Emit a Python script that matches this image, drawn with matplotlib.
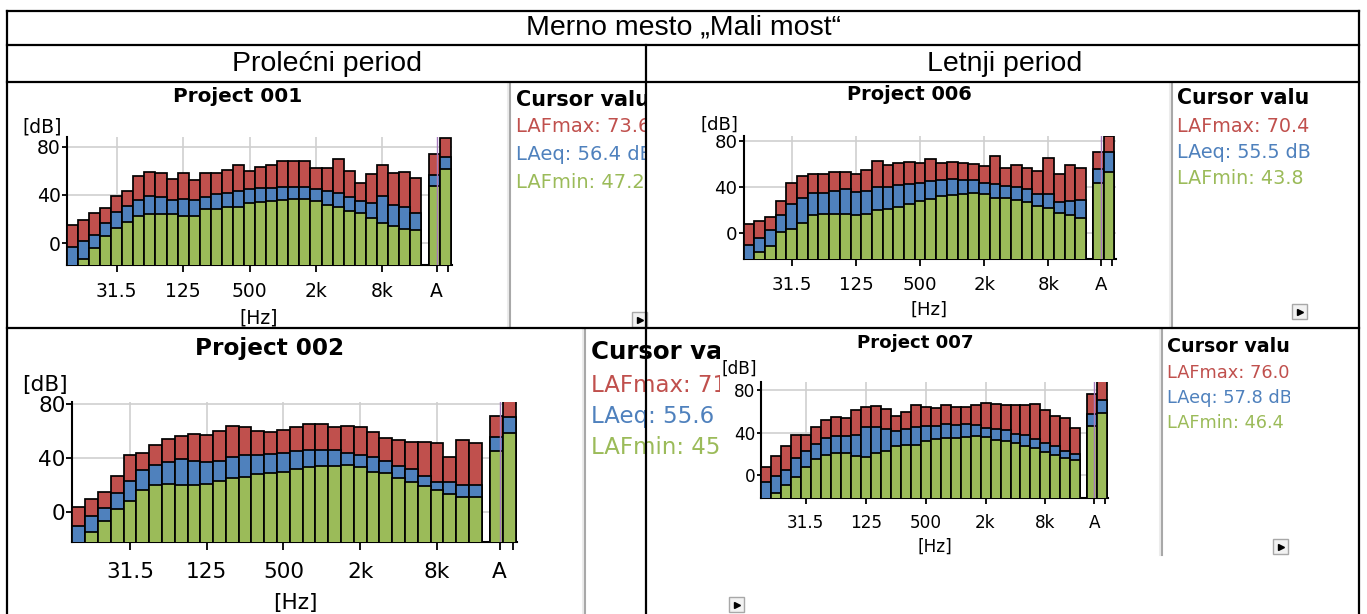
import numpy as np
import matplotlib.pyplot as plt
from matplotlib.patches import Rectangle

W, H = 1367, 614

# third-octave bands 12.5 Hz .. 16 kHz
bands = ['12.5', '16', '20', '25', '31.5', '40', '50', '63', '80', '100',
         '125', '160', '200', '250', '315', '400', '500', '630', '800', '1k',
         '1.25k', '1.6k', '2k', '2.5k', '3.15k', '4k', '5k', '6.3k', '8k',
         '10k', '12.5k', '16k']
tick_bands = ['31.5', '125', '500', '2k', '8k']

# Project 001 (prolecni)
p001_max = [15, 19, 25, 29, 39, 43, 56, 59, 58, 53, 58, 52, 58, 58, 61, 65,
            60, 63, 65, 68, 68, 68, 62, 62, 70, 60, 50, 57, 65, 58, 59, 54]
p001_eq = [-3, 2, 7, 17, 26, 31, 36, 39, 38, 36, 37, 36, 38, 41, 42, 43,
           45, 46, 46, 47, 47, 47, 45, 43, 42, 38, 35, 33, 39, 32, 30, 25]
p001_min = [-25, -13, -4, 6, 13, 18, 23, 24, 24, 24, 23, 23, 28, 28, 30, 30,
            33, 34, 35, 36, 37, 37, 35, 32, 30, 27, 25, 21, 17, 14, 12, 11]
p001_a_max = [73.6, 87.4]
p001_a_eq = [56.4, 71.2]
p001_a_min = [47.2, 61.2]

# Project 006 (letnji)
p006_max = [8, 11, 14, 28, 44, 50, 51, 51, 53, 53, 51, 55, 63, 59, 61, 62,
            61, 64, 61, 62, 61, 60, 58, 67, 57, 59, 57, 54, 65, 51, 59, 57]
p006_eq = [-10, -4, 3, 16, 25, 31, 35, 35, 37, 38, 36, 37, 40, 40, 42, 43,
           44, 45, 46, 47, 46, 46, 44, 43, 41, 40, 38, 34, 34, 27, 28, 29]
p006_min = [-25, -16, -11, 1, 4, 9, 16, 17, 17, 17, 16, 17, 20, 21, 23, 25,
            28, 30, 32, 33, 34, 35, 34, 31, 31, 29, 27, 24, 22, 18, 16, 13]
p006_a_max = [70.4, 84.5]
p006_a_eq = [55.5, 70.2]
p006_a_min = [43.8, 53.2]

# Project 002 (prolecni)
p002_max = [4, 10, 15, 27, 42, 44, 50, 54, 56, 58, 57, 60, 64, 63, 60, 59,
            61, 63, 65, 65, 63, 64, 63, 59, 55, 53, 52, 52, 51, 41, 53, 51]
p002_eq = [-10, -3, 3, 14, 23, 31, 35, 37, 39, 38, 37, 38, 41, 42, 42, 43,
           44, 45, 46, 46, 46, 44, 42, 41, 38, 34, 32, 27, 22, 22, 20, 20]
p002_min = [-25, -15, -7, 2, 8, 16, 20, 21, 20, 20, 21, 23, 25, 26, 28, 29,
            30, 32, 33, 34, 34, 35, 33, 30, 29, 25, 22, 19, 16, 13, 11, 11]
p002_a_max = [71.0, 85.0]
p002_a_eq = [55.6, 70.6]
p002_a_min = [45.0, 58.6]

# Project 007 (letnji)
p007_max = [8, 18, 27, 38, 38, 45, 52, 55, 54, 61, 64, 65, 62, 56, 59, 66,
            64, 63, 66, 64, 64, 66, 68, 67, 66, 66, 66, 67, 61, 56, 54, 44]
p007_eq = [-7, -1, 5, 16, 23, 29, 35, 37, 37, 38, 45, 45, 43, 41, 43, 45,
           46, 46, 48, 47, 48, 47, 44, 43, 42, 39, 38, 34, 30, 27, 23, 20]
p007_min = [-25, -17, -9, -2, 8, 15, 19, 21, 21, 18, 17, 21, 23, 27, 28, 28,
            32, 34, 35, 35, 36, 37, 36, 33, 32, 30, 27, 25, 22, 19, 16, 14]
p007_a_max = [76.0, 88.4]
p007_a_eq = [57.8, 70.5]
p007_a_min = [46.4, 58.0]

RED, BLUE, GREEN = '#c0504d', '#4f81bd', '#9bbb59'
XMIN, XMAX = -0.5, 34.3
XA = [32.67, 33.67]      # the two overall-level bars
XCUR = 32.9

# screenshot placement, in pixels of the final image
layouts = {
    '001': dict(x0=66.9, bw=11.07, y0=243.3, k=1.208, ylim=(-18, 87.7),
                title=(238, 97), db=(62, 127), hz=(259, 318),
                cx=516, cy=[100, 127, 155, 182], clip=646, cfs=14,
                sep=(510, 83, 328), btn=(632, 312)),
    '006': dict(x0=743.5, bw=10.7, y0=233.3, k=1.154, ylim=(-22.5, 84.4),
                title=(909, 95), db=(738, 125), hz=(929, 310),
                cx=1177, cy=[98, 127, 153, 179], clip=1310, cfs=13.8,
                sep=(1172, 83, 328), btn=(1292, 304)),
    '002': dict(x0=72.4, bw=12.79, y0=512, k=1.35, ylim=(-22.3, 81.6),
                title=(270, 349), db=(68, 385), hz=(295, 603),
                cx=591, cy=[352, 385, 417, 448], clip=720, cfs=16.5,
                sep=(585, 330, 614), btn=(729, 597)),
    '007': dict(x0=761, bw=9.98, y0=475, k=1.0625, ylim=(-22, 87.8),
                title=(915, 343), db=(757, 369), hz=(935, 547),
                cx=1167, cy=[347, 373, 398, 423], clip=1290, cfs=12.8,
                sep=(1162, 330, 555), btn=(1273, 539)),
}


def px_rect(l, t, r, b):
    return [l / W, 1 - b / H, (r - l) / W, (b - t) / H]


fig = plt.figure(figsize=(W / 100, H / 100), dpi=100)
renderer = fig.canvas.get_renderer()
bg = fig.add_axes([0, 0, 1, 1], zorder=0)
bg.set_xlim(0, W)
bg.set_ylim(H, 0)
bg.axis('off')
over = fig.add_axes([0, 0, 1, 1], zorder=20)
over.set_xlim(0, W)
over.set_ylim(H, 0)
over.axis('off')


def cut_text(x, y, txt, right, **kw):
    # the screenshot panel cuts its text off at its right edge
    clip = Rectangle((0, 0), right, H, transform=bg.transData)
    tt = bg.text(x, y, txt, clip_on=True, **kw)
    while len(txt) > 1 and tt.get_window_extent(renderer).x1 > right + 10:
        txt = txt[:-1].rstrip()
        tt.set_text(txt)
    tt.set_clip_path(clip)
    return tt


def panel(name, lmax, leq, lmin, amax, aeq, amin):
    lay = layouts[name]
    s = lay['bw'] / 11.07
    fs = 13.5 * s
    lo, hi = lay['ylim']
    l = lay['x0']
    r = l + (XMAX - XMIN) * lay['bw']
    t = lay['y0'] - hi * lay['k']
    b = lay['y0'] - lo * lay['k']
    ax = fig.add_axes(px_rect(l, t, r, b), zorder=2)
    ax.set_facecolor('none')

    xs = np.r_[np.arange(len(bands)), XA]
    base = lo - 10
    for vals, avals, col in ((lmax, amax, RED), (leq, aeq, BLUE), (lmin, amin, GREEN)):
        v = np.r_[vals, avals]
        ax.bar(xs, v - base, bottom=base, width=1.0, color=col,
               edgecolor='black', linewidth=1.25, zorder=3)

    tix = [bands.index(tb) for tb in tick_bands]
    for tx in tix:
        ax.axvline(tx, color='#cfcfcf', lw=1.2, zorder=1)
    ax.axvline(XCUR, color='#a77bbd', lw=1.0, zorder=4)
    ax.set_yticks([0, 40, 80])
    ax.yaxis.grid(True, color='#cfcfcf', lw=1.2, zorder=1)
    ax.set_axisbelow(True)
    ax.set_xticks(tix + [XCUR, 33.95])
    ax.set_xticklabels(tick_bands + ['A', ''])
    ax.set_xlim(XMIN, XMAX)
    ax.set_ylim(lo, hi)
    for sp in ('top', 'right'):
        ax.spines[sp].set_visible(False)
    for sp in ('left', 'bottom'):
        ax.spines[sp].set_linewidth(1.5)
    ax.tick_params(axis='x', length=5 * s, width=1.3, pad=7.5 * s, labelsize=fs)
    ax.tick_params(axis='y', length=3.5 * s, width=1.3, pad=1, labelsize=fs)

    bg.text(*lay['title'], f'Project {name}', fontsize=fs * 1.07,
            fontweight='bold', ha='center', va='center')
    bg.text(*lay['db'], '[dB]', fontsize=fs, ha='right', va='center')
    bg.text(*lay['hz'], '[Hz]', fontsize=fs, ha='center', va='center')

    # cursor value panel
    sx, sy0, sy1 = lay['sep']
    bg.plot([sx - 2, sx - 2], [sy0, sy1], color='#ececec', lw=1.5)
    bg.plot([sx, sx], [sy0, sy1], color='#a8a8a8', lw=1.5)
    rows = [('Cursor value', 'black', 'bold'),
            (f'LAFmax: {amax[0]:.1f} dB', RED, 'normal'),
            (f'LAeq: {aeq[0]:.1f} dB', BLUE, 'normal'),
            (f'LAFmin: {amin[0]:.1f} dB', GREEN, 'normal')]
    for (txt, col, wt), yy in zip(rows, lay['cy']):
        cut_text(lay['cx'], yy, txt, lay['clip'], color=col, fontweight=wt,
                 fontsize=lay['cfs'] * (1.07 if wt == 'bold' else 1),
                 ha='left', va='center')
    bx, by = lay['btn']
    bg.add_patch(Rectangle((bx, by), 15, 15, fc='#f2f2f2', ec='#a8a8a8', lw=1))
    bg.plot(bx + 7.5, by + 7.5, marker='>', ms=4.5, color='black')
    return ax


panel('001', p001_max, p001_eq, p001_min, p001_a_max, p001_a_eq, p001_a_min)
panel('006', p006_max, p006_eq, p006_min, p006_a_max, p006_a_eq, p006_a_min)
panel('002', p002_max, p002_eq, p002_min, p002_a_max, p002_a_eq, p002_a_min)
panel('007', p007_max, p007_eq, p007_min, p007_a_max, p007_a_eq, p007_a_min)

# table grid
lw = 1.6
L, R, T = 7, 1359, 11
for yy in (T, 45, 82, 328):
    over.plot([L, R], [yy, yy], color='black', lw=lw, solid_capstyle='projecting')
over.plot([L, L], [T, H], color='black', lw=lw)
over.plot([R, R], [T, H], color='black', lw=lw)
over.plot([646, 646], [45, H], color='black', lw=lw)

tfont = dict(family='Liberation Sans', fontsize=20.5, ha='center', va='center')
over.text(683, 28, 'Merno mesto \u201eMali most\u201c', **tfont)
over.text(327, 64, 'Prolećni period', **tfont)
over.text(1005, 64, 'Letnji period', **tfont)

fig.savefig('out.png', dpi=100)
